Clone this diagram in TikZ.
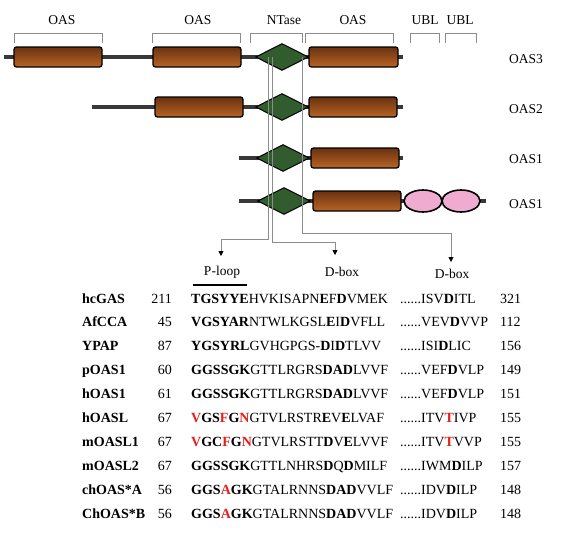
\documentclass[tikz,border=0pt]{standalone}
\usepackage{fontspec}
\setmainfont{Liberation Serif}
\usepackage{tikz}
\usetikzlibrary{arrows.meta, positioning, shapes.geometric, calc}
\usepackage{xcolor}

\definecolor{oastop}{RGB}{105,50,16}
\definecolor{oasmid}{RGB}{224,144,70}
\definecolor{oasbot}{RGB}{185,100,38}
\definecolor{ntgreen}{RGB}{48,92,46}
\definecolor{ublpink}{RGB}{240,172,208}
\definecolor{motifred}{RGB}{230,30,30}

\newcommand{\cons}[1]{\textbf{#1}}
\newcommand{\varres}[1]{\textcolor{motifred}{\textbf{#1}}}

\begin{document}
\begin{tikzpicture}[
    x=1pt, y=-1pt,
    oasbox/.style={draw=black, line width=1.3pt, rounded corners=2.5pt, minimum height=20pt, inner sep=0pt,
        top color=oastop, middle color=oasmid, bottom color=oasbot},
    ntase/.style={diamond, draw=black, line width=1pt, minimum width=53pt, minimum height=27pt, inner sep=0pt, fill=ntgreen},
    ubl/.style={ellipse, draw=black, line width=1.6pt, minimum width=38pt, minimum height=22pt, inner sep=0pt, fill=ublpink},
    backbone/.style={line width=4.5pt, black!78},
    bracket/.style={black!45, line width=0.8pt},
    conn/.style={black!45, line width=0.8pt, -{Triangle[length=5pt, width=5pt, color=black]}},
    toplbl/.style={font=\fontsize{13.5}{15}\selectfont, inner sep=0pt},
    rowlbl/.style={font=\fontsize{13.5}{15}\selectfont, inner sep=0pt},
    boxlbl/.style={font=\fontsize{13.5}{15}\selectfont, inner sep=0pt},
    seqname/.style={font=\fontsize{14}{16}\selectfont\bfseries, anchor=base west, inner sep=0pt},
    seqnum/.style={font=\fontsize{14}{16}\selectfont, inner sep=0pt},
    seqtxt/.style={font=\fontsize{14}{16}\selectfont, anchor=base west, inner sep=0pt}
]
\useasboundingbox (0,0) rectangle (565,541);

% Domain labels and brackets (top)
\foreach \lx/\xa/\xb/\txt [count=\j] in {62/14/102/OAS, 198/152/240/OAS, 284/250/302/NTase,
    353/305/393/OAS, 425/410/439/UBL, 460/445/476/UBL} {
  \node[toplbl] (dom\j) at (\lx,20.5) {\txt};
  \draw[bracket] (\xa,43) -- (\xa,33) -- (\xb,33) -- (\xb,43);
}

% OAS3
\draw[backbone] (4,57) -- (403,57);
\node[oasbox, minimum width=88pt] (oasA3) at (58,57) {};
\node[oasbox, minimum width=88pt] (oasB3) at (197,57) {};
\node[ntase] (nt3) at (282,57) {};
\node[oasbox, minimum width=89pt] (oasC3) at (353.5,57) {};
\node[rowlbl] (lbl3) at (526,59) {OAS3};

% OAS2
\draw[backbone] (92,107) -- (403,107);
\node[oasbox, minimum width=88pt] (oasB2) at (199,107) {};
\node[ntase] (nt2) at (282,107) {};
\node[oasbox, minimum width=88pt] (oasC2) at (353,107) {};
\node[rowlbl] (lbl2) at (526,109) {OAS2};

% OAS1
\draw[backbone] (239,158) -- (403,158);
\node[ntase] (nt1) at (283,158) {};
\node[oasbox, minimum width=88pt] (oasC1) at (355,158) {};
\node[rowlbl] (lbl1) at (526,159) {OAS1};

% OAS1 with UBL
\draw[backbone] (239,201) -- (486,201);
\node[ntase] (ntU) at (284,201) {};
\node[oasbox, minimum width=88pt] (oasCU) at (357,201) {};
\node[ubl] (ublA) at (423,201) {};
\node[ubl] (ublB) at (461,201) {};
\node[rowlbl] (lblU) at (526,204) {OAS1};

% Motif labels
\node[boxlbl] (ploop) at (222,272) {P-loop};
\node[boxlbl] (dboxA) at (342,272) {D-box};
\node[boxlbl] (dboxB) at (452,274) {D-box};
\draw[line width=1.8pt] (193,285) -- (247,285);

% Connectors
\coordinate (bendP) at (221,239);
\coordinate (tipP) at (221,256);
\coordinate (bendA) at (335,242);
\coordinate (tipA) at (335,255);
\coordinate (bendB) at (451,233);
\coordinate (tipB) at (451,262);
\draw[conn] ([xshift=-14pt]nt3.center) |- (bendP) -- (tipP);
\draw[conn] ([xshift=-10pt]nt3.center) |- (bendA) -- (tipA);
\draw[conn] ([xshift=20pt]nt3.center) |- (bendB) -- (tipB);

% Alignment
\foreach \nm/\st/\sa/\sb/\en [count=\i] in {
    hcGAS/211/{\cons{TGSYYE}HVKISAPN\cons{E}F\cons{D}VMEK}/{ISV\cons{D}ITL}/321,
    AfCCA/45/{\cons{VGSYAR}NTWLKGSL\cons{E}I\cons{D}VFLL}/{VEV\cons{D}VVP}/112,
    YPAP/87/{\cons{YGSYRL}GVHGPGS-\cons{D}I\cons{D}TLVV}/{ISI\cons{D}LIC}/156,
    pOAS1/60/{\cons{GGSSGK}GTTLRGRS\cons{DAD}LVVF}/{VEF\cons{D}VLP}/149,
    hOAS1/61/{\cons{GGSSGK}GTTLRGRS\cons{DAD}LVVF}/{VEF\cons{D}VLP}/151,
    hOASL/67/{\varres{V}\cons{GS}\varres{F}\cons{G}\varres{N}GTVLRSTR\cons{E}V\cons{E}LVAF}/{ITV\varres{T}IVP}/155,
    mOASL1/67/{\varres{V}\cons{GC}\varres{F}\cons{G}\varres{N}GTVLRSTT\cons{D}V\cons{E}LVVF}/{ITV\varres{T}VVP}/155,
    mOASL2/67/{\cons{GGSSGK}GTTLNHRS\cons{D}Q\cons{D}MILF}/{IWM\cons{D}ILP}/157,
    chOAS*A/56/{\cons{GGS}\varres{A}\cons{GK}GTALRNNS\cons{DAD}VVLF}/{IDV\cons{D}ILP}/148,
    ChOAS*B/56/{\cons{GGS}\varres{A}\cons{GK}GTALRNNS\cons{DAD}VVLF}/{IDV\cons{D}ILP}/148} {
  \pgfmathsetmacro\yb{279.1+23.9*\i}
  \node[seqname] (name\i) at (82,\yb) {\nm};
  \node[seqnum, anchor=base east] (start\i) at (172,\yb) {\st};
  \node[seqtxt] (seqa\i) at (191,\yb) {\sa};
  \node[seqtxt] (seqb\i) at (400,\yb) {......\sb};
  \node[seqnum, anchor=base west] (stop\i) at (500,\yb) {\en};
}

\end{tikzpicture}
\end{document}
